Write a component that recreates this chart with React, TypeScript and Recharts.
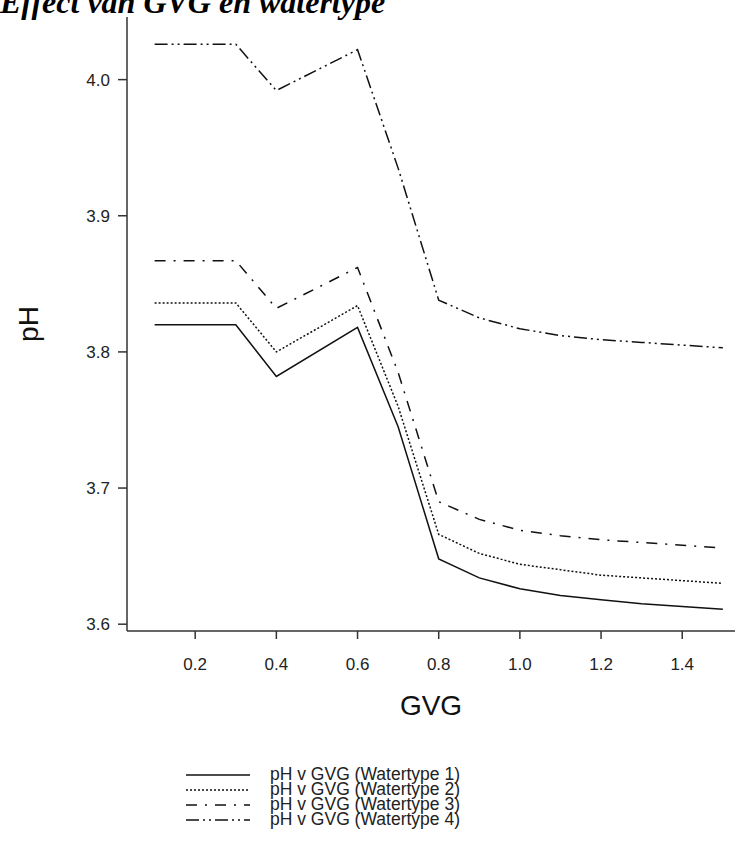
import { LineChart, Line, XAxis, YAxis, Label } from "recharts";

const gvg = [0.1, 0.3, 0.4, 0.6, 0.7, 0.8, 0.9, 1.0, 1.1, 1.2, 1.3, 1.4, 1.5];

const watertype1 = [3.82, 3.82, 3.782, 3.818, 3.745, 3.648, 3.634, 3.626, 3.621, 3.618, 3.615, 3.613, 3.611];
const watertype2 = [3.836, 3.836, 3.8, 3.834, 3.76, 3.666, 3.652, 3.644, 3.64, 3.636, 3.634, 3.632, 3.63];
const watertype3 = [3.867, 3.867, 3.832, 3.862, 3.785, 3.69, 3.677, 3.669, 3.665, 3.662, 3.66, 3.658, 3.656];
const watertype4 = [4.026, 4.026, 3.992, 4.022, 3.935, 3.838, 3.825, 3.817, 3.812, 3.809, 3.807, 3.805, 3.803];

const xTicks = [0.2, 0.4, 0.6, 0.8, 1.0, 1.2, 1.4];
const yTicks = [3.6, 3.7, 3.8, 3.9, 4.0];

const series = [
  { key: "w1", name: "pH v GVG (Watertype 1)", dash: undefined, values: watertype1 },
  { key: "w2", name: "pH v GVG (Watertype 2)", dash: "2 2", values: watertype2 },
  { key: "w3", name: "pH v GVG (Watertype 3)", dash: "11 8 2 8", values: watertype3 },
  { key: "w4", name: "pH v GVG (Watertype 4)", dash: "13 4 2 4 2 4", values: watertype4 },
];

const data = gvg.map((x, i) => {
  const row: Record<string, number> = { gvg: x };
  series.forEach((s) => (row[s.key] = s.values[i]));
  return row;
});

const font = "Arial, 'Liberation Sans', sans-serif";

export default function App() {
  return (
    <div style={{ position: "absolute", left: 0, top: 0, width: 744, height: 851, overflow: "hidden", background: "#fff" }}>
      <div
        style={{
          position: "absolute",
          left: 0,
          top: -16,
          fontFamily: "'Liberation Serif', 'Times New Roman', serif",
          fontStyle: "italic",
          fontWeight: "bold",
          fontSize: 32,
          whiteSpace: "nowrap",
          color: "#000",
        }}
      >
        Effect van GVG en watertype
      </div>

      <div style={{ position: "absolute", left: 0, top: 0 }}>
        <LineChart width={744} height={720} data={data} margin={{ top: 17, right: 9, left: 0, bottom: 0 }}>
          <XAxis
            dataKey="gvg"
            type="number"
            domain={[0.032, 1.53]}
            ticks={xTicks}
            tickFormatter={(v: number) => v.toFixed(1)}
            tickSize={8}
            tickMargin={19}
            height={89}
            axisLine={{ stroke: "#333", strokeWidth: 1.5 }}
            tickLine={{ stroke: "#333", strokeWidth: 1.5 }}
            tick={{ fontSize: 17, fill: "#222", fontFamily: font }}
          >
            <Label value="GVG" position="insideBottom" offset={5} style={{ fontSize: 28, fill: "#111", fontFamily: font }} />
          </XAxis>
          <YAxis
            type="number"
            domain={[3.595, 4.046]}
            ticks={yTicks}
            tickFormatter={(v: number) => v.toFixed(1)}
            width={127}
            tickSize={9}
            tickMargin={8}
            axisLine={{ stroke: "#333", strokeWidth: 1.5 }}
            tickLine={{ stroke: "#333", strokeWidth: 1.5 }}
            tick={{ fontSize: 17, fill: "#222", fontFamily: font }}
          >
            <Label value="pH" angle={-90} position="insideLeft" offset={28} style={{ fontSize: 28, fill: "#111", fontFamily: font, textAnchor: "middle" }} />
          </YAxis>
          {series.map((s) => (
            <Line
              key={s.key}
              type="linear"
              dataKey={s.key}
              name={s.name}
              stroke="#111"
              strokeWidth={1.5}
              strokeDasharray={s.dash}
              dot={false}
              activeDot={false}
              isAnimationActive={false}
            />
          ))}
        </LineChart>
      </div>

      <div style={{ position: "absolute", left: 186, top: 767, fontFamily: font, fontSize: 17.5, color: "#222", lineHeight: "15px" }}>
        {series.map((s) => (
          <div key={s.key} style={{ display: "flex", alignItems: "center", height: 15 }}>
            <svg width={64} height={15} style={{ marginRight: 20 }}>
              <line x1={0} y1={8} x2={64} y2={8} stroke="#111" strokeWidth={1.5} strokeDasharray={s.dash} />
            </svg>
            <span>{s.name}</span>
          </div>
        ))}
      </div>
    </div>
  );
}
